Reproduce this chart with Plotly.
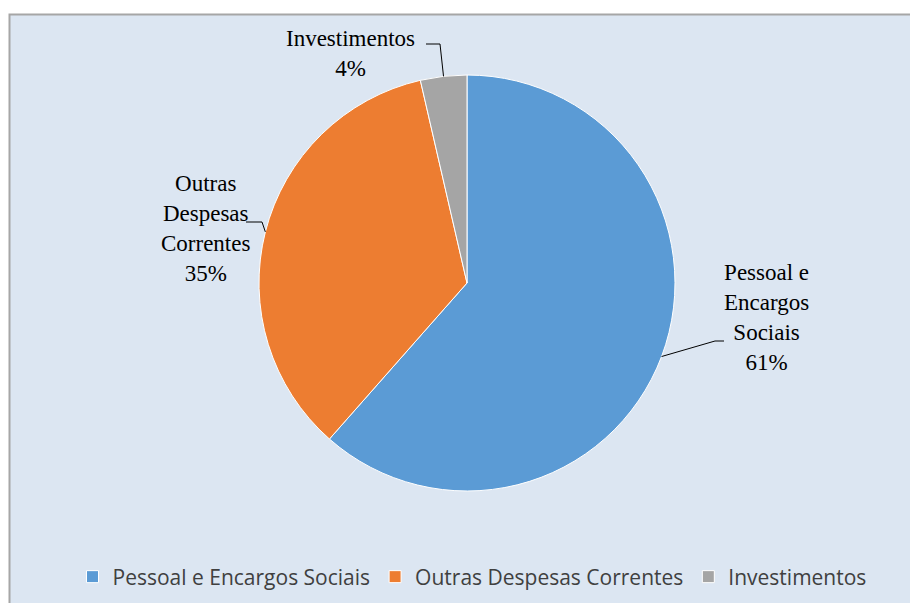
import math
import plotly.graph_objects as go

categories = ["Pessoal e Encargos Sociais", "Outras Despesas Correntes", "Investimentos"]
values = [61.5, 34.9, 3.6]
label_text = ["Pessoal e<br>Encargos<br>Sociais<br>61%", "Outras<br>Despesas<br>Correntes<br>35%", "Investimentos<br>4%"]
colors = ["#5B9BD5", "#ED7D31", "#A5A5A5"]

W, H = 910, 603
cx, cy, R = 467, 283, 208

def px(x):
    return x / W

def py(y):
    return 1 - y / H

fig = go.Figure()
fig.add_trace(go.Pie(
    labels=categories, values=values, sort=False, direction="clockwise", rotation=0,
    marker=dict(colors=colors, line=dict(color="white", width=1)),
    textinfo="none", hoverinfo="label+percent", automargin=False,
    domain=dict(x=[px(cx - R), px(cx + R)], y=[py(cy + R), py(cy - R)]),
))

shapes = [dict(type="rect", xref="paper", yref="paper", layer="below",
               x0=px(9.5), x1=px(930), y0=py(625), y1=py(14.5),
               fillcolor="#DCE6F2", line=dict(color="#A6A6A6", width=2))]

total = sum(values)
cum = 0
mids = []
for v in values:
    a = (cum + v / 2) / total * 2 * math.pi
    mids.append((cx + R * math.sin(a), cy - R * math.cos(a)))
    cum += v

starts = [((724, 341), (715, 341)), ((246, 222), (262, 222)), ((426, 44), (440, 44))]
for (s, e), m in zip(starts, mids):
    path = f"M {px(s[0])},{py(s[1])} L {px(e[0])},{py(e[1])} L {px(m[0])},{py(m[1])}"
    shapes.append(dict(type="path", xref="paper", yref="paper", path=path,
                       line=dict(color="black", width=1)))

label_pos = [(766, 317), (205, 228), (350, 53)]
annotations = []
for t, (x, y) in zip(label_text, label_pos):
    annotations.append(dict(text=t, x=px(x), y=py(y), xref="paper", yref="paper",
                            xanchor="center", yanchor="middle", showarrow=False, align="center",
                            font=dict(family="Liberation Serif", size=23, color="black")))

fig.update_layout(
    width=W, height=H, margin=dict(l=0, r=0, t=0, b=0),
    paper_bgcolor="white", plot_bgcolor="white",
    shapes=shapes, annotations=annotations,
    legend=dict(orientation="h", x=px(472), xanchor="center", y=py(577), yanchor="middle",
                font=dict(family="Open Sans", size=21, color="#404040"),
                bgcolor="rgba(0,0,0,0)", itemwidth=30, traceorder="normal"),
    showlegend=True,
)

fig.write_html("out.html", config={"displayModeBar": False},
               post_script="document.body.style.margin='0';document.body.style.overflow='hidden';")
